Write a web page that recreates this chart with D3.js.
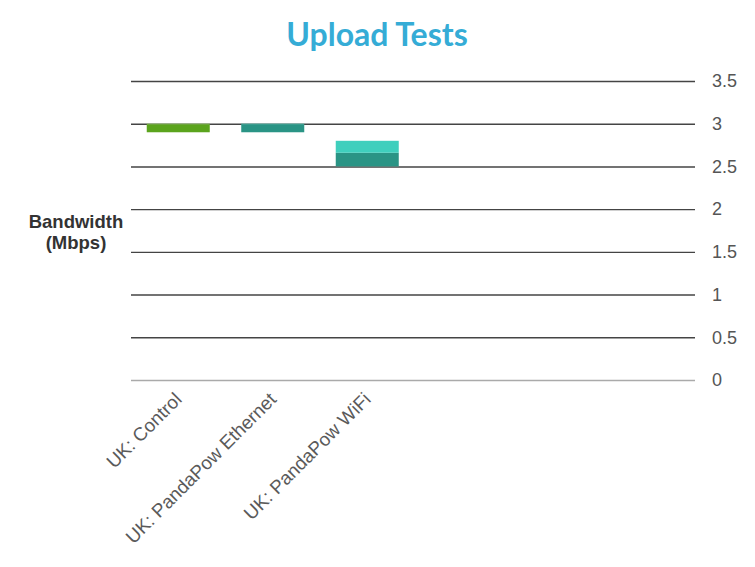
<!DOCTYPE html>
<html>
<head>
<meta charset="utf-8">
<script src="https://cdn.jsdelivr.net/npm/d3@7"></script>
<style>
    body { margin: 0; background: #fff; }
    svg { display: block; }
</style>
</head>
<body>
<div id="chart"></div>
<script>
// values
const categories = ['UK: Control', 'UK: PandaPow Ethernet', 'UK: PandaPow WiFi'];
const lowValues = [2.90, 2.90, 2.50];
const midValues = [2.99, 2.99, 2.66];
const highValues = [3.00, 3.00, 2.80];
const darkColors = ['#5ba41d', '#2a9485', '#2a9485'];
const lightColors = ['#86d045', '#3fcab6', '#3fcfbd'];
const yTicks = [0, 0.5, 1, 1.5, 2, 2.5, 3, 3.5];

const width = 755;
const height = 567;
const plotLeft = 131;
const plotRight = 695;
const plotTop = 81;
const plotBottom = 380;

const svg = d3
    .select('#chart')
    .append('svg')
    .attr('width', width)
    .attr('height', height);

const x = d3
    .scaleBand()
    .domain(categories)
    .range([plotLeft, plotLeft + 94.5 * categories.length])
    .paddingInner(1 / 3)
    .paddingOuter(1 / 6);

const y = d3.scaleLinear().domain([0, 3.5]).range([plotBottom, plotTop]);

svg.append('text')
    .attr('x', 377)
    .attr('y', 46)
    .attr('text-anchor', 'middle')
    .attr('font-family', 'Lato, "Open Sans", sans-serif')
    .attr('font-weight', 'bold')
    .attr('font-size', 32)
    .attr('fill', '#35acd6')
    .text('Upload Tests');

// gridlines + tick labels on the right
const yAxis = svg
    .append('g')
    .attr('transform', 'translate(' + plotRight + ',0)')
    .call(d3.axisRight(y).tickValues(yTicks).tickSize(0).tickFormat(d3.format('~g')));
yAxis.select('.domain').remove();
yAxis.selectAll('.tick line')
    .attr('x1', -(plotRight - plotLeft))
    .attr('x2', 0)
    .attr('stroke', function (d) { return d === 0 ? '#aaa' : '#444'; })
    .attr('stroke-width', 1.4);
yAxis.selectAll('.tick text')
    .attr('x', 17)
    .attr('font-family', '"Liberation Sans", Arial, sans-serif')
    .attr('font-size', 18)
    .attr('fill', '#555');

svg.append('text')
    .attr('text-anchor', 'middle')
    .attr('font-family', '"Liberation Sans", Arial, sans-serif')
    .attr('font-weight', 'bold')
    .attr('font-size', 18.5)
    .attr('fill', '#333')
    .selectAll('tspan')
    .data(['Bandwidth', '(Mbps)'])
    .join('tspan')
    .attr('x', 76)
    .attr('y', function (d, i) { return 228 + i * 21; })
    .text(function (d) { return d; });

// floating bars: dark segment low..mid, light segment mid..high
const bars = svg.append('g');
bars.selectAll('rect.dark')
    .data(categories)
    .join('rect')
    .attr('class', 'dark')
    .attr('x', function (d) { return x(d); })
    .attr('width', x.bandwidth())
    .attr('y', function (d, i) { return y(midValues[i]); })
    .attr('height', function (d, i) { return y(lowValues[i]) - y(midValues[i]); })
    .attr('fill', function (d, i) { return darkColors[i]; });
bars.selectAll('rect.light')
    .data(categories)
    .join('rect')
    .attr('class', 'light')
    .attr('x', function (d) { return x(d); })
    .attr('width', x.bandwidth())
    .attr('y', function (d, i) { return y(highValues[i]); })
    .attr('height', function (d, i) { return y(midValues[i]) - y(highValues[i]); })
    .attr('fill', function (d, i) { return lightColors[i]; });

// rotated category labels
svg.append('g')
    .selectAll('text')
    .data(categories)
    .join('text')
    .attr('transform', function (d) {
        return 'translate(' + (x(d) + x.bandwidth() / 2) + ',' + (plotBottom + 16) + ') rotate(-45)';
    })
    .attr('text-anchor', 'end')
    .attr('dy', '0.35em')
    .attr('font-family', '"Liberation Sans", Arial, sans-serif')
    .attr('font-size', 18.8)
    .attr('fill', '#5a5a5a')
    .text(function (d) { return d; });
</script>
</body>
</html>
